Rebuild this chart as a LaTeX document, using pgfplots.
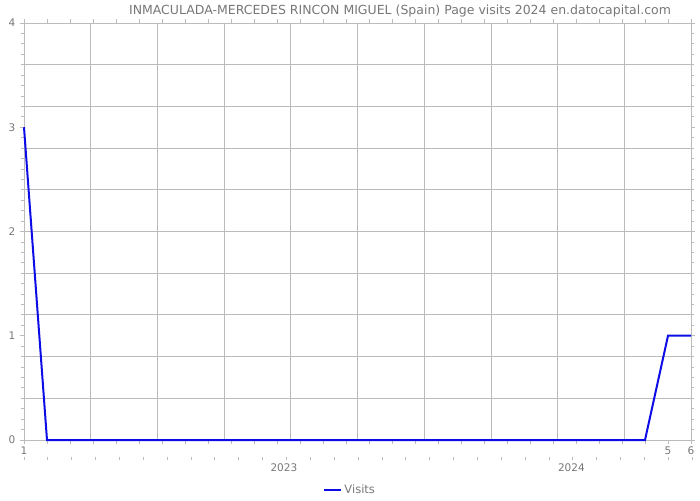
\documentclass[border=0pt]{standalone}
\usepackage{fontspec}
\setmainfont{DejaVu Sans}
\usepackage{pgfplots}
\pgfplotsset{compat=1.18}
\definecolor{gridc}{HTML}{BBBBBB}
\definecolor{txt}{HTML}{777777}
\definecolor{lineblue}{HTML}{0C0CE6}
\begin{document}
\fontsize{10.5pt}{12pt}\selectfont
\begin{tikzpicture}[x=1pt,y=1pt]
\path (0,0) rectangle (700,500);
\begin{axis}[at={(24pt,60pt)}, anchor=south west, scale only axis,
  width=667pt, height=417pt,
  xmin=0, xmax=29, ymin=0, ymax=4,
  axis line style={gridc, line width=0.8pt},
  every tick/.style={gridc, line width=0.8pt},
  tick align=outside,
  xtick={0,...,29},
  xticklabels={1,,,,,,,,,,,,,,,,,,,,,,,,,,,,5,6},
  major tick length=4pt,
  minor tick length=3pt,
  ytick={0,1,2,3,4},
  minor ytick={0,0.1,...,4.01},
  extra x ticks={2.9,5.8,8.7,11.6,14.5,17.4,20.3,23.2,26.1,29},
  extra x tick labels={},
  extra x tick style={grid=major, major tick length=0pt},
  extra y ticks={0.4,0.8,1.2,1.6,2,2.4,2.8,3.2,3.6,4},
  extra y tick labels={},
  extra y tick style={grid=major, major tick length=0pt},
  major grid style={gridc, line width=0.8pt},
  ticklabel style={font=\fontsize{10.5pt}{12pt}\selectfont, text=txt},
  yticklabel style={/pgf/number format/assume math mode=true, xshift=-1pt},
  xticklabel style={yshift=1pt},
  legend style={at={(0.489,-0.12)}, anchor=center, draw=none, fill=none,
    font=\fontsize{11.5pt}{13pt}\selectfont, text=txt, legend cell align=left},
  legend image post style={line width=2pt},
  clip=false,
]
\addplot[lineblue, line width=2pt] coordinates {
(0,3) (1,0) (2,0) (3,0) (4,0) (5,0) (6,0) (7,0) (8,0) (9,0) (10,0)
(11,0) (12,0) (13,0) (14,0) (15,0) (16,0) (17,0) (18,0) (19,0) (20,0)
(21,0) (22,0) (23,0) (24,0) (25,0) (26,0) (27,0) (28,1) (29,1)
};
\addlegendentry{Visits}
\node[text=txt, font=\fontsize{10.5pt}{12pt}\selectfont] at (axis cs:11.3,0) [yshift=-28pt] {2023};
\node[text=txt, font=\fontsize{10.5pt}{12pt}\selectfont] at (axis cs:23.8,0) [yshift=-28pt] {2024};
\end{axis}
\foreach \i in {0,...,28} \draw[gridc, line width=0.8pt] ({24+23.86*\i},43) -- ++(0,-3);
\node[text=txt, font=\fontsize{12.5pt}{14pt}\selectfont] at (400,489) {INMACULADA-MERCEDES RINCON MIGUEL (Spain) Page visits 2024 en.datocapital.com};
\end{tikzpicture}
\end{document}
